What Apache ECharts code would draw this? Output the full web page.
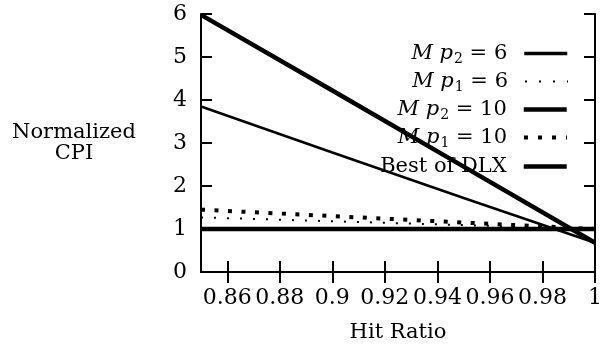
<!DOCTYPE html>
<html><head><meta charset="utf-8">
<script src="https://cdn.jsdelivr.net/npm/echarts@6/dist/echarts.min.js"></script>
<style>html,body{margin:0;padding:0;background:#fff}#c{width:601px;height:345px}</style>
</head><body><div id="c"></div>
<script>
const hitRatio = [0.85, 0.90, 0.95, 1.00];
const mp2_6 = [3.85, 2.78, 1.72, 0.68];
const mp1_6 = [1.27, 1.18, 1.09, 1.00];
const mp2_10 = [5.98, 4.22, 2.45, 0.68];
const mp1_10 = [1.45, 1.30, 1.15, 1.00];
const bestDLX = [1.00, 1.00, 1.00, 1.00];
const xTicks = [0.86, 0.88, 0.90, 0.92, 0.94, 0.96, 0.98, 1.00];
const seriesNames = ['Mp2 = 6', 'Mp1 = 6', 'Mp2 = 10', 'Mp1 = 10', 'Best of DLX'];
const legendLabels = {
  'Mp2 = 6': '{i|M p}{s|2}{n| = 6}',
  'Mp1 = 6': '{i|M p}{s|1}{n| = 6}',
  'Mp2 = 10': '{i|M p}{s|2}{n| = 10}',
  'Mp1 = 10': '{i|M p}{s|1}{n| = 10}',
  'Best of DLX': '{n|Best of DLX}'
};
const FONT = 'DejaVu Serif';
const pair = (ys) => hitRatio.map((x, i) => [x, ys[i]]);
const styles = [
  {width: 2.5, type: 'solid', lw: 3.5, lt: 'solid'},
  {width: 2, type: [2, 11], lw: 2, lt: [2, 12]},
  {width: 4.5, type: 'solid', lw: 4.5, lt: 'solid'},
  {width: 4, type: [4, 9.5], lw: 4, lt: [4, 10]},
  {width: 4.5, type: 'solid', lw: 4.5, lt: 'solid'}
];
const datas = [mp2_6, mp1_6, mp2_10, mp1_10, bestDLX];
const rowY = [55, 83, 111, 139, 168];

const chart = echarts.init(document.getElementById('c'), null, {renderer: 'canvas'});
const axisCommon = {
  axisLine: {lineStyle: {color: '#000', width: 2}},
  axisTick: {inside: true, length: 11, lineStyle: {color: '#000', width: 2}},
  splitLine: {show: false}
};
chart.setOption({
  animation: false,
  backgroundColor: '#fff',
  grid: {left: 201, right: 6, top: 14, bottom: 73, containLabel: false, outerBoundsMode: 'none'},
  xAxis: [{
    type: 'value', min: 0.85, max: 1.0, position: 'bottom',
    ...axisCommon,
    axisTick: {...axisCommon.axisTick, customValues: xTicks},
    axisLabel: {customValues: xTicks, color: '#000', fontFamily: FONT, fontSize: 22, margin: 15, showMinLabel: true, showMaxLabel: true, hideOverlap: false},
    name: 'Hit Ratio', nameLocation: 'middle', nameGap: 50,
    nameTextStyle: {color: '#000', fontFamily: FONT, fontSize: 21}
  }, {
    type: 'value', min: 0.85, max: 1.0, position: 'top',
    ...axisCommon,
    axisTick: {...axisCommon.axisTick, customValues: xTicks},
    axisLabel: {show: false}
  }],
  yAxis: [{
    type: 'value', min: 0, max: 6, interval: 1, position: 'left',
    ...axisCommon,
    axisLabel: {color: '#000', fontFamily: FONT, fontSize: 22, margin: 14},
    name: 'Normalized\nCPI', nameLocation: 'middle', nameRotate: 0, nameGap: 127,
    nameTextStyle: {color: '#000', fontFamily: FONT, fontSize: 21, align: 'center', lineHeight: 21}
  }, {
    type: 'value', min: 0, max: 6, interval: 1, position: 'right',
    ...axisCommon,
    axisLabel: {show: false}
  }],
  legend: seriesNames.map((n, i) => ({
    data: [n], orient: 'vertical', align: 'right', right: 32, top: rowY[i] - 12,
    itemWidth: 43, itemHeight: 14, padding: 0,
    itemStyle: {color: 'transparent', borderColor: 'transparent', borderWidth: 0, opacity: 0},
    lineStyle: {color: '#000', width: styles[i].lw, type: styles[i].lt, cap: 'butt', opacity: 1},
    formatter: (name) => legendLabels[name],
    textStyle: {
      color: '#000', fontFamily: FONT, fontSize: 21,
      rich: {
        i: {fontFamily: FONT, fontStyle: 'italic', fontSize: 21, color: '#000'},
        s: {fontFamily: FONT, fontSize: 14, color: '#000', padding: [12, 0, 0, 1]},
        n: {fontFamily: FONT, fontSize: 21, color: '#000', padding: [0, 12, 0, 0]}
      }
    }
  })),
  series: seriesNames.map((n, i) => ({
    name: n, type: 'line', data: pair(datas[i]), symbol: 'none', showSymbol: false,
    lineStyle: {color: '#000', width: styles[i].width, type: styles[i].type, cap: 'butt'},
    itemStyle: {color: '#000'},
    z: 2
  }))
});
</script></body></html>
